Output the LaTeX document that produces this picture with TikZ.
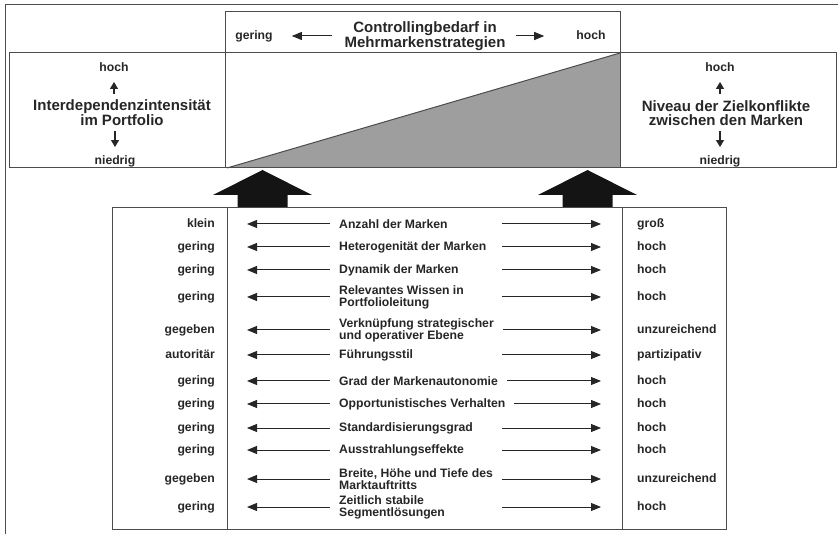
\documentclass[tikz,border=0pt]{standalone}
\usepackage{fontspec}
\setmainfont{Liberation Sans}
\usetikzlibrary{positioning, arrows.meta}

\tikzset{
  rahmen/.style={draw=black!70, line width=1pt},
  lbl/.style={font=\fontsize{12.2}{11.5}\selectfont\bfseries, text=black!85,
    inner sep=0pt, text height=9pt, text depth=2.5pt},
  mitte/.style={font=\fontsize{12.2}{12}\selectfont\bfseries, text=black!85,
    inner xsep=9pt, inner ysep=1pt, fill=white, align=left, anchor=west},
  titel/.style={font=\fontsize{15}{13.5}\selectfont\bfseries, text=black!85,
    inner sep=0pt, align=center},
  pfeil/.style={-{Triangle[length=10pt, width=8pt]}, line width=1pt, black!85},
  kpfeil/.style={-{Triangle[length=7pt, width=8pt]}, line width=1.1pt, black!85},
}

\begin{document}
\begin{tikzpicture}[x=1pt, y=-1pt]
    \useasboundingbox (0,0) rectangle (838,534);

    % Frames and the grey wedge
    \draw[rahmen] (5,534) -- (5,5) -- (838,5);
    \fill[black!38] (227,168) -- (620,53) -- (620,168) -- cycle;
    \draw[rahmen] (227,168) -- (620,53);
    \draw[rahmen] (9,53) rectangle (836,168);
    \draw[rahmen] (225,12) rectangle (620,168);

    % Controllingbedarf
    \node[titel] (bedarf) at (425,36) {Controllingbedarf in\\Mehrmarkenstrategien};
    \node[lbl] (bgering) at (254,36) {gering};
    \node[lbl] (bhoch) at (591,36) {hoch};
    \draw[pfeil, shorten <=12pt, shorten >=19pt] (bedarf.west) -- (bedarf.west -| bgering.east);
    \draw[pfeil, shorten <=10pt, shorten >=32pt] (bedarf.east) -- (bedarf.east -| bhoch.west);

    % Interdependenzintensitaet (left)
    \node[titel] (inter) at (122,113) {Interdependenzintensität\\im Portfolio};
    \node[lbl] (ihoch) at (114,68) {hoch};
    \node[lbl] (iniedrig) at (115,161) {niedrig};
    \draw[kpfeil] ([yshift=-20pt]ihoch.south) -- ([yshift=-8pt]ihoch.south);
    \draw[kpfeil] ([yshift=24pt]iniedrig.north) -- ([yshift=8pt]iniedrig.north);

    % Zielkonflikte (right)
    \node[titel] (ziel) at (726,113) {Niveau der Zielkonflikte\\zwischen den Marken};
    \node[lbl] (zhoch) at (720,68) {hoch};
    \node[lbl] (zniedrig) at (720,161) {niedrig};
    \draw[kpfeil] ([yshift=-20pt]zhoch.south) -- ([yshift=-8pt]zhoch.south);
    \draw[kpfeil] ([yshift=24pt]zniedrig.north) -- ([yshift=8pt]zniedrig.north);

    % Block arrows
    \foreach \x in {262.5,587.5}
        \fill[black!92] (\x,170) -- (\x+49.5,195) -- (\x+25,195) -- (\x+25,208)
            -- (\x-25,208) -- (\x-25,195) -- (\x-49.5,195) -- cycle;

    % Lower table
    \draw[rahmen] (112,208) rectangle (726,529);
    \draw[rahmen] (227,208) -- (227,529) (622,208) -- (622,529);

    \foreach \i/\y/\ltext/\mtext/\rtext in {
        1/224/klein/Anzahl der Marken/groß,
        2/247/gering/Heterogenität der Marken/hoch,
        3/270/gering/Dynamik der Marken/hoch,
        4/297/gering/{Relevantes Wissen in\\Portfolioleitung}/hoch,
        5/330/gegeben/{Verknüpfung strategischer\\und operativer Ebene}/unzureichend,
        6/355/autoritär/Führungsstil/partizipativ,
        7/381/gering/Grad der Markenautonomie/hoch,
        8/404/gering/Opportunistisches Verhalten/hoch,
        9/428/gering/Standardisierungsgrad/hoch,
        10/450/gering/Ausstrahlungseffekte/hoch,
        11/479/gegeben/{Breite, Höhe und Tiefe des\\Marktauftritts}/unzureichend,
        12/507/gering/{Zeitlich stabile\\Segmentlösungen}/hoch}
    {
        \node[lbl, anchor=east] (l\i) at (215,\y) {\ltext};
        \node[lbl, anchor=west] (r\i) at (637,\y) {\rtext};
        \coordinate (s\i) at (502,\y);
        \draw[pfeil, shorten >=36pt] (s\i) -- (s\i -| r\i.west);
        \node[mitte] (m\i) at (330,\y) {\mtext};
        \draw[pfeil, shorten >=32pt] (m\i.west) -- (m\i.west -| l\i.east);
    }

\end{tikzpicture}
\end{document}
